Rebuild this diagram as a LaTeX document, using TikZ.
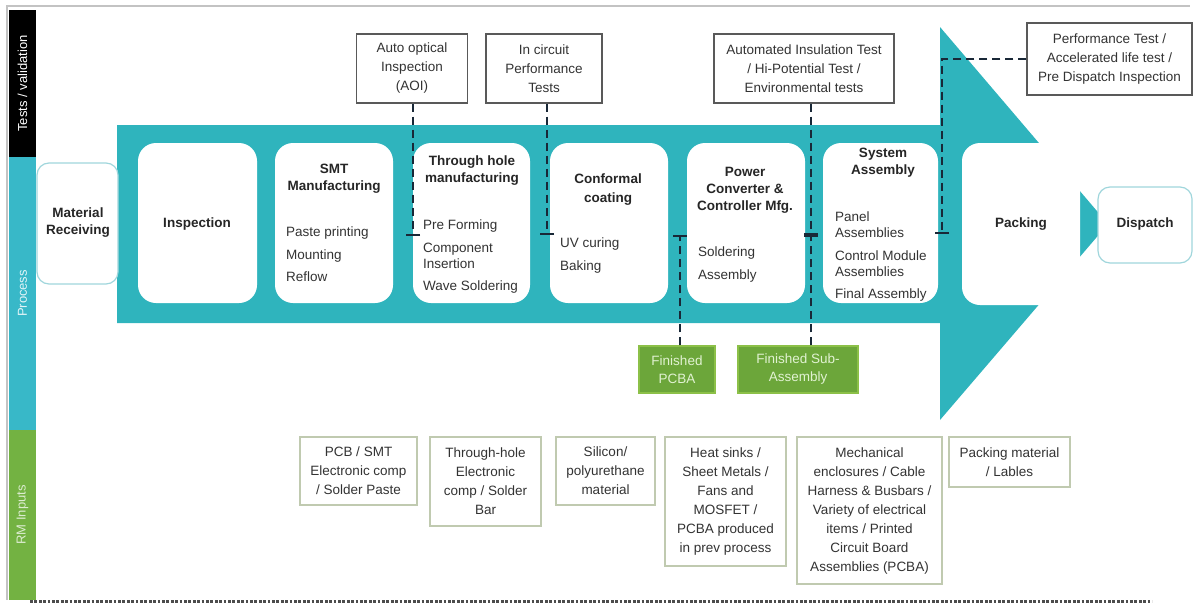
\documentclass[tikz,border=0pt]{standalone}
\usepackage{fontspec}
\setmainfont{Liberation Sans}
\usetikzlibrary{arrows.meta}
\definecolor{tealA}{RGB}{47,180,189}
\definecolor{sideteal}{RGB}{56,184,200}
\definecolor{sidegreen}{RGB}{115,178,66}
\definecolor{fingreen}{RGB}{108,166,58}
\definecolor{finborder}{RGB}{140,192,72}
\definecolor{fintext}{RGB}{225,242,210}
\definecolor{rmborder}{RGB}{192,202,176}
\definecolor{lightteal}{RGB}{160,214,220}
\definecolor{dashcol}{RGB}{25,40,55}
\definecolor{framegray}{RGB}{195,195,195}
\begin{document}
\begin{tikzpicture}[x=1pt,y=-1pt,
  font=\fontsize{13.5}{19}\selectfont,
  procbox/.style={fill=white, rounded corners=18pt, minimum height=160pt, inner sep=0pt},
  endbox/.style={fill=white, draw=lightteal, line width=1.2pt, rounded corners=12pt, inner sep=0pt},
  hdr/.style={font=\fontsize{13.5}{17}\selectfont\bfseries, align=center, inner sep=0pt, text=black!85},
  items/.style={font=\fontsize{13.5}{16}\selectfont, align=left, inner sep=0pt, anchor=north west, text=black!80},
  testbox/.style={draw=black!65, line width=1.3pt, fill=white, align=center, inner sep=0pt, text=black!80},
  rmbox/.style={draw=rmborder, line width=1.5pt, fill=white, align=center, inner sep=0pt, text=black!80},
  finbox/.style={fill=fingreen, draw=finborder, line width=1.2pt, align=center, inner sep=0pt, text=fintext, font=\fontsize{13.5}{18}\selectfont},
  dashline/.style={draw=dashcol, line width=1.8pt, dash pattern=on 8pt off 5pt, -{Bar[width=14pt,line width=1.8pt]}},
  sidelab/.style={rotate=90, minimum height=27pt, inner sep=0pt, font=\fontsize{13}{15}\selectfont}
]
\useasboundingbox (0,0) rectangle (1193,605);
% frame
\draw[framegray, line width=1.8pt] (7,600) -- (7,6) -- (1190,6);
\draw[black!70, line width=3pt, dash pattern=on 2.8pt off 1.6pt] (30,601) -- (1152,601);
% sidebar
\node[sidelab, fill=black, text=white, minimum width=147pt] (lt) at (22.5,83.5) {Tests / validation};
\node[sidelab, fill=sideteal, text=white!85!sideteal, minimum width=273pt] (lp) at (22.5,293.5) {Process};
\node[sidelab, fill=sidegreen, text=white!75!sidegreen, minimum width=170pt] (lr) at (22.5,515) {RM Inputs};
% big arrow
\fill[tealA] (117,125) -- (940,125) -- (940,27) -- (1108,224) -- (940,420) -- (940,323) -- (117,323) -- cycle;
% end boxes
\node[endbox, minimum width=81pt, minimum height=121pt] (mr) at (77.5,223.5) {};
\node[hdr] (mrt) at (78,223) {Material\\Receiving};
\node[endbox, minimum width=94pt, minimum height=76pt] (disp) at (1145,225) {};
\node[hdr] (dispt) at (1145,224) {Dispatch};
% process boxes
\node[procbox, minimum width=119pt] (insp) at (197.5,223) {};
\node[procbox, minimum width=118pt] (smt) at (334,223) {};
\node[procbox, minimum width=117pt] (thm) at (471.5,223) {};
\node[procbox, minimum width=118pt] (conf) at (609,223) {};
\node[procbox, minimum width=118pt] (pwr) at (746,223) {};
\node[procbox, minimum width=115pt] (sys) at (880.5,223) {};
\node[procbox, minimum width=118pt, minimum height=162pt] (pack) at (1021,224) {};
% headers
\node[hdr] (insph) at (197,224) {Inspection};
\node[hdr] (smth) at (334,179) {SMT\\Manufacturing};
\node[hdr] (thmh) at (472,171) {Through hole\\manufacturing};
\node[hdr, font=\fontsize{13.5}{19}\selectfont\bfseries] (confh) at (608,190) {Conformal\\coating};
\node[hdr] (pwrh) at (745,190) {Power\\Converter \&\\Controller Mfg.};
\node[hdr] (sysh) at (883,163) {System\\Assembly};
\node[hdr] (packh) at (1021,224) {Packing};
% items
\node[items] (smti) at (286,227) {Paste printing\\[6.5pt]Mounting\\[6.5pt]Reflow};
\node[items] (thmi) at (423,220) {Pre Forming\\[6.5pt]Component\\Insertion\\[6.5pt]Wave Soldering};
\node[items] (confi) at (560,238) {UV curing\\[6.5pt]Baking};
\node[items] (pwri) at (698,247) {Soldering\\[6.5pt]Assembly};
\node[items] (sysi) at (835,212) {Panel\\Assemblies\\[6.5pt]Control Module\\Assemblies\\[6.5pt]Final Assembly};
% test boxes
\node[testbox, minimum width=111pt, minimum height=69pt] (aoi) at (412,68.5) {Auto optical\\Inspection\\(AOI)};
\node[testbox, minimum width=116pt, minimum height=69pt] (ict) at (544,68.5) {In circuit\\Performance\\Tests};
\node[testbox, minimum width=180pt, minimum height=69pt] (ait) at (804,68.5) {Automated Insulation Test\\/ Hi-Potential Test /\\Environmental tests};
\node[testbox, minimum width=165pt, minimum height=72pt] (perf) at (1109.5,59) {Performance Test /\\Accelerated life test /\\Pre Dispatch Inspection};
% finished boxes
\node[finbox, minimum width=76pt, minimum height=47pt] (fpcba) at (677,369.5) {Finished\\PCBA};
\node[finbox, minimum width=120pt, minimum height=47pt] (fsub) at (798,369.5) {Finished Sub-\\Assembly};
% RM inputs
\node[rmbox, minimum width=117pt, minimum height=68pt] (rm1) at (358.5,471) {PCB / SMT\\Electronic comp\\/ Solder Paste};
\node[rmbox, minimum width=111pt, minimum height=89pt] (rm2) at (485.5,481.5) {Through-hole\\Electronic\\comp / Solder\\Bar};
\node[rmbox, minimum width=99pt, minimum height=68pt] (rm3) at (605.5,471) {Silicon/\\polyurethane\\material};
\node[rmbox, minimum width=121pt, minimum height=129pt] (rm4) at (725.5,501.5) {Heat sinks /\\Sheet Metals /\\Fans and\\MOSFET /\\PCBA produced\\in prev process};
\node[rmbox, minimum width=145pt, minimum height=147pt] (rm5) at (869.5,510.5) {Mechanical\\enclosures / Cable\\Harness \& Busbars /\\Variety of electrical\\items / Printed\\Circuit Board\\Assemblies (PCBA)};
\node[rmbox, minimum width=121pt, minimum height=50pt] (rm6) at (1009.5,462) {Packing material\\/ Lables};
% connectors
\coordinate (e1) at (413,236);
\coordinate (e2) at (547,235);
\coordinate (e3) at (811,235);
\coordinate (e4) at (680,235);
\coordinate (e5) at (942,234);
\draw[dashline] (aoi.south -| e1) -- (e1);
\draw[dashline] (ict.south -| e2) -- (e2);
\draw[dashline] (ait.south -| e3) -- (e3);
\draw[dashline] (fsub.north -| e3) -- (e3);
\draw[dashline] (fpcba.north -| e4) -- (e4);
\draw[dashline] (perf.west) -| (e5);
\end{tikzpicture}
\end{document}
